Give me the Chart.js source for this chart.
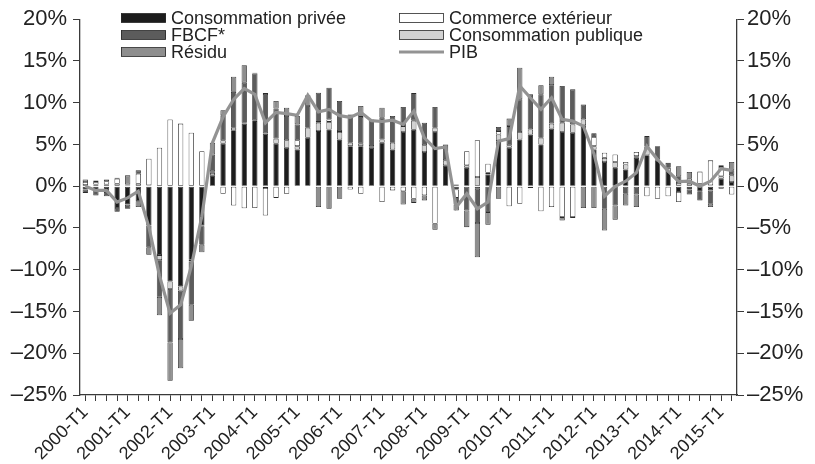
<!DOCTYPE html>
<html>
<head>
<meta charset="utf-8">
<script src="https://cdn.jsdelivr.net/npm/chart.js@4.4.0/dist/chart.umd.min.js"></script>
<style>
  html, body { margin: 0; padding: 0; background: #fff; }
</style>
</head>
<body>
<canvas id="chart" width="815" height="464"></canvas>
<script>
// quarters 2000-T1 .. 2015-T2
const quarters = [
  "2000-T1","2000-T2","2000-T3","2000-T4","2001-T1","2001-T2","2001-T3","2001-T4",
  "2002-T1","2002-T2","2002-T3","2002-T4","2003-T1","2003-T2","2003-T3","2003-T4",
  "2004-T1","2004-T2","2004-T3","2004-T4","2005-T1","2005-T2","2005-T3","2005-T4",
  "2006-T1","2006-T2","2006-T3","2006-T4","2007-T1","2007-T2","2007-T3","2007-T4",
  "2008-T1","2008-T2","2008-T3","2008-T4","2009-T1","2009-T2","2009-T3","2009-T4",
  "2010-T1","2010-T2","2010-T3","2010-T4","2011-T1","2011-T2","2011-T3","2011-T4",
  "2012-T1","2012-T2","2012-T3","2012-T4","2013-T1","2013-T2","2013-T3","2013-T4",
  "2014-T1","2014-T2","2014-T3","2014-T4","2015-T1","2015-T2"
];

// contributions, in points of %
const consoPrivee = [
  -0.4, -0.5, -0.7, -2.6, -2.2, -1.8, -4.7, -8.25,
  -11.4, -12.0, -8.8, -4.7, 1.3, 5.1, 6.7, 7.5,
  7.8, 6.3, 5.1, 4.6, 4.4, 5.8, 6.6, 6.8,
  5.6, 4.8, 4.8, 4.6, 5.2, 4.4, 6.5, 6.75,
  4.1, 6.5, 2.5, -0.4, 2.2, -0.3, 1.4, 5.4,
  4.6, 5.6, 6.2, 5.0, 6.9, 6.5, 6.4, 7.3,
  4.4, 2.9, 2.2, 2.0, 3.4, 3.7, 3.1, 1.7,
  -0.7, -0.4, -0.6, -0.5, 0.9, 0.5
];
const consoPublique = [
  0.15, 0.2, 0.2, 0.3, 0.1, 0.3, 0.1, -0.6,
  -0.9, -0.5, -0.2, -0.1, 0.3, 0.4, 0.3, 0.1,
  0.1, -0.2, 0.6, 0.9, 0.4, 1.2, 1.0, 0.9,
  0.9, 0.4, 0.3, 0.2, 0.4, 0.8, 0.7, 1.1,
  0.8, 0.5, 0.6, 0.2, 0.3, 1.1, 0.2, 0.8,
  0.3, 0.9, 0.6, 0.8, 0.6, 1.1, 1.0, 0.7,
  0.4, 0.5, 0.7, 0.6, 0.2, 1.1, 0.1, 0.5,
  0.4, 0.3, 0.3, 0.1, 0.3, 0.8
];
const commerceExt = [
  0.35, 0.3, 0.4, 0.6, 0.1, 1.2, 3.2, 4.6,
  8.0, 7.5, 6.4, 4.2, 0.2, -0.9, -2.3, -2.65,
  -2.6, -3.3, -1.4, -0.9, 0.7, 0.0, 0.1, 0.3,
  0.1, -0.4, -0.9, 0.0, -1.9, -0.5, -0.6, -1.5,
  -1.1, -4.5, 0.0, -1.0, 1.7, 4.4, 1.1, 0.4,
  -2.4, -2.1, -0.2, -3.0, -2.5, -3.7, -3.7, 0.0,
  1.1, 0.6, 0.9, 0.3, 0.5, -1.2, -1.5, -1.2,
  -1.2, 0.6, 1.45, 3.0, 1.1, -1.0
];
const fbcf = [
  -0.4, -0.6, -0.5, -0.45, -0.5, 0.4, -2.6, -4.4,
  -6.4, -5.8, -5.2, -2.2, 2.0, 3.0, 4.3, 4.8,
  5.6, 4.75, 3.6, 2.9, 1.9, 2.6, 3.5, 3.8,
  3.6, 3.4, 3.2, 3.2, 2.6, 3.2, 2.3, 3.3,
  2.7, 2.5, 1.9, -0.8, -2.9, -4.1, -3.1, 0.5,
  2.3, 3.9, 4.2, 5.2, 4.6, 4.4, 4.2, 1.8,
  0.45, -2.7, -2.3, -0.9, -1.0, 1.2, 1.6, 0.6,
  0.8, -0.6, -1.1, -1.6, 0.2, 0.6
];
const residu = [
  0.3, 0.2, 0.2, 0.1, 1.1, -0.7, -0.9, -2.2,
  -4.6, -3.5, -1.9, -0.9, 1.4, 0.6, 1.8, 2.1,
  0.1, 0.1, 0.9, 1.0, 1.0, 1.3, -2.5, -2.7,
  -1.5, 0.0, 1.3, 0.0, 1.2, 0.0, -1.6, -0.5,
  -0.6, -0.7, 0.0, -0.7, -2.0, -4.1, -1.5, -1.5,
  0.9, 3.8, 0.0, 1.1, 1.0, -0.4, -0.1, -2.6,
  -2.6, -2.6, -1.7, -1.4, -1.5, 0.0, 0.0, 0.0,
  1.2, 0.8, 0.0, -0.4, -0.3, 1.0
];
const pib = [
  0.0, -0.5, -0.5, -1.9, -1.4, -0.6, -4.9, -10.7,
  -15.2, -14.2, -9.6, -3.6, 5.2, 8.3, 10.4, 11.7,
  11.0, 7.6, 8.85, 8.7, 8.5, 10.9, 8.9, 9.2,
  8.45, 8.25, 8.85, 7.85, 7.75, 7.9, 7.4, 9.0,
  5.8, 4.5, 4.7, -2.5, -0.9, -2.7, -1.9, 5.4,
  5.7, 12.0, 10.6, 9.2, 10.6, 8.0, 7.8, 7.2,
  3.9, -1.2, 0.0, 0.6, 1.6, 4.8, 3.2, 1.8,
  0.55, 0.6, 0.0, 0.6, 2.1, 1.9
];

const yTicks = [20, 15, 10, 5, 0, -5, -10, -15, -20, -25];

const FONT = '"Liberation Sans", Arial, Helvetica, sans-serif';
const INK = "#222";
const AXIS = "#3a3a3a";

function pct(v) {
  return (v < 0 ? "\u2013" + Math.abs(v) : String(v)) + "%";
}

function bar(label, data, fill) {
  return {
    type: "bar",
    label: label,
    data: data,
    backgroundColor: fill,
    borderColor: "#2a2a2a",
    borderWidth: 0.8,
    borderSkipped: false,
    barPercentage: 0.5,
    categoryPercentage: 1.0,
    yAxisID: "y",
    order: 1,
  };
}

// legend slots: [x of swatch, y centre]
const legendSlots = {
  "Consommation privée": [121, 18],
  "FBCF*": [121, 35],
  "Résidu": [121, 52],
  "Commerce extérieur": [399, 18],
  "Consommation publique": [399, 35],
  "PIB": [399, 52],
};

const cornerLegend = {
  id: "cornerLegend",
  afterDraw(chart) {
    const ctx = chart.ctx;
    ctx.save();
    ctx.font = "18px " + FONT;
    ctx.textBaseline = "middle";
    chart.data.datasets.forEach((ds) => {
      const slot = legendSlots[ds.label];
      if (!slot) return;
      const [x, y] = slot;
      if (ds.type === "line") {
        ctx.strokeStyle = ds.borderColor;
        ctx.lineWidth = ds.borderWidth;
        ctx.beginPath();
        ctx.moveTo(x, y);
        ctx.lineTo(x + 45, y);
        ctx.stroke();
      } else {
        ctx.fillStyle = ds.backgroundColor;
        ctx.fillRect(x, y - 4.5, 45, 9);
        ctx.strokeStyle = "#2a2a2a";
        ctx.lineWidth = 0.8;
        ctx.strokeRect(x + 0.5, y - 4.5, 44, 9);
      }
      ctx.fillStyle = INK;
      ctx.fillText(ds.label, x + 50, y + 1);
    });
    ctx.restore();
  },
};

new Chart(document.getElementById("chart"), {
  data: {
    labels: quarters,
    datasets: [
      {
        type: "line",
        label: "PIB",
        data: pib,
        borderColor: "#939393",
        borderWidth: 3.2,
        pointRadius: 0,
        tension: 0,
        fill: false,
        yAxisID: "y2",
        stack: "pib",
        order: 0,
      },
      bar("Consommation privée", consoPrivee, "#1c1c1c"),
      bar("Consommation publique", consoPublique, "#d2d2d2"),
      bar("Commerce extérieur", commerceExt, "#ffffff"),
      bar("FBCF*", fbcf, "#5c5c5c"),
      bar("Résidu", residu, "#8e8e8e"),
    ],
  },
  options: {
    responsive: false,
    animation: false,
    devicePixelRatio: 1,
    layout: { padding: { top: 16, left: 0, right: 0, bottom: 0 } },
    plugins: {
      legend: { display: false },
      tooltip: { enabled: false },
    },
    scales: {
      x: {
        stacked: true,
        offset: true,
        grid: {
          display: true,
          drawOnChartArea: false,
          drawTicks: true,
          tickLength: 6,
          offset: false,
          color: AXIS,
          lineWidth: 1,
        },
        border: { display: true, color: AXIS, width: 1.3 },
        ticks: {
          autoSkip: false,
          maxRotation: 45,
          minRotation: 45,
          padding: 1,
          color: INK,
          font: { family: FONT, size: 18 },
          callback: function (value) {
            const lab = this.getLabelForValue(value);
            return lab.endsWith("T1") ? lab : "";
          },
        },
        afterFit(scale) { scale.height = 69; },
      },
      y: {
        stacked: true,
        position: "left",
        min: -25,
        max: 20,
        grid: {
          display: true,
          drawOnChartArea: false,
          drawTicks: true,
          tickLength: 7,
          color: AXIS,
        },
        border: { display: true, color: AXIS, width: 1.3 },
        afterBuildTicks(scale) { scale.ticks = yTicks.map((v) => ({ value: v })); },
        ticks: {
          padding: 6,
          color: INK,
          font: { family: FONT, size: 22 },
          callback: (v) => pct(v),
        },
        afterFit(scale) { scale.width = 80; },
      },
      y2: {
        stacked: false,
        position: "right",
        min: -25,
        max: 20,
        grid: {
          display: true,
          drawOnChartArea: false,
          drawTicks: true,
          tickLength: 7,
          color: AXIS,
        },
        border: { display: true, color: AXIS, width: 1.3 },
        afterBuildTicks(scale) { scale.ticks = yTicks.map((v) => ({ value: v })); },
        ticks: {
          padding: 3,
          color: INK,
          font: { family: FONT, size: 22 },
          callback: (v) => pct(v),
        },
        afterFit(scale) { scale.width = 78; },
      },
    },
  },
  plugins: [cornerLegend],
});
</script>
</body>
</html>
